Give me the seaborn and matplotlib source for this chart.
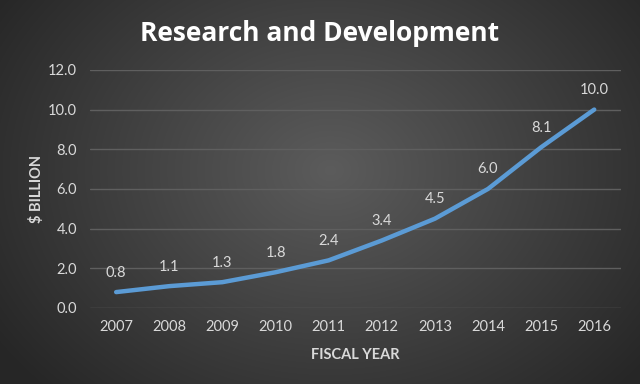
import numpy as np
import pandas as pd
import seaborn as sns
import matplotlib
import matplotlib.pyplot as plt
matplotlib.use('Agg')

# data
years = ['2007', '2008', '2009', '2010', '2011', '2012', '2013', '2014', '2015', '2016']
spend = [0.8, 1.1, 1.3, 1.8, 2.4, 3.4, 4.5, 6.0, 8.1, 10.0]
y_ticks = [0, 2, 4, 6, 8, 10, 12]


def main():
    sns.set_theme(style='dark')
    plt.rcParams['font.family'] = ['Lato', 'DejaVu Sans']

    df = pd.DataFrame({'year': years, 'spend': spend})

    fig = plt.figure(figsize=(6.4, 3.84), dpi=100)

    # radial dark gradient background
    bg = fig.add_axes([0, 0, 1, 1], zorder=-10)
    yy, xx = np.mgrid[0:384, 0:640]
    r = np.sqrt(((xx - 330) / 420.0) ** 2 + ((yy - 170) / 330.0) ** 2)
    shade = np.clip(0.36 - 0.22 * r, 0.15, 0.36)
    bg.imshow(np.dstack([shade, shade, shade]), aspect='auto', extent=[0, 1, 0, 1])
    bg.axis('off')

    ax = fig.add_axes([0.14, 0.198, 0.83, 0.62])
    ax.set_facecolor('none')
    ax.patch.set_alpha(0)

    sns.lineplot(data=df, x='year', y='spend', ax=ax, color='#5b9bd5',
                 linewidth=3.2, solid_joinstyle='round', solid_capstyle='round',
                 sort=False)

    for i, v in enumerate(spend):
        ax.annotate(f'{v:.1f}', (i, v), xytext=(0, 14), textcoords='offset points',
                    ha='center', va='center', color='#d9d9d9', fontsize=10.5)

    ax.set_xlim(-0.5, len(years) - 0.5)
    ax.set_ylim(0, 12)
    ax.set_yticks(y_ticks)
    ax.set_yticklabels([f'{t:.1f}' for t in y_ticks])
    ax.tick_params(colors='#d9d9d9', labelsize=10.5, length=0, pad=9)
    ax.yaxis.grid(True, color='#5f5f5f', linewidth=1)
    ax.xaxis.grid(False)
    for s in ax.spines.values():
        s.set_visible(False)

    ax.set_xlabel('FISCAL YEAR', color='#d9d9d9', fontsize=10.5, fontweight='bold', labelpad=10)
    ax.set_ylabel('$ BILLION', color='#d9d9d9', fontsize=10.5, fontweight='bold', labelpad=3)

    fig.text(0.5, 0.913, 'Research and Development', ha='center', va='center',
             color='white', fontsize=19, fontweight='bold',
             family=['Open Sans', 'DejaVu Sans'])

    fig.savefig('out.png', dpi=100)


if __name__ == '__main__':
    main()
